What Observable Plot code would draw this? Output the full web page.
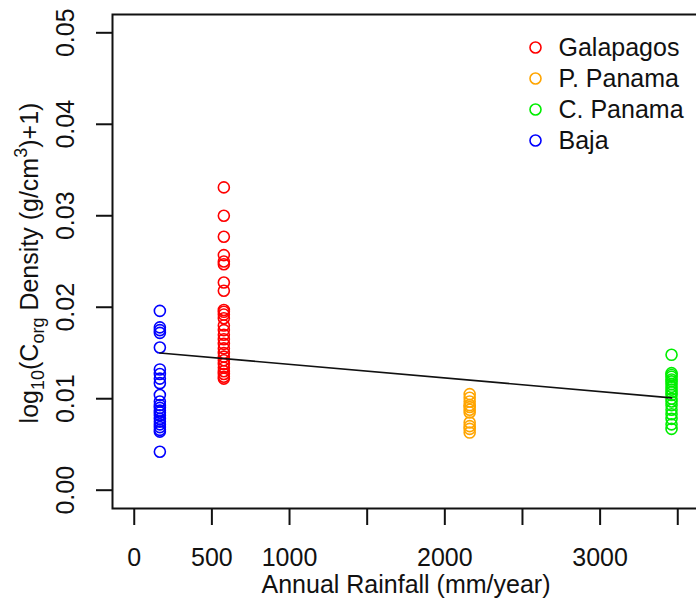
<!DOCTYPE html>
<html>
<head>
<meta charset="utf-8">
<script src="https://cdn.jsdelivr.net/npm/d3@7"></script>
<script src="https://cdn.jsdelivr.net/npm/@observablehq/plot@0.6"></script>
<style>
  html, body { margin: 0; padding: 0; background: #fff; overflow: hidden; }
</style>
</head>
<body>
<div id="chart"></div>
<script>
// Sites, legend order and colours
const sites = ["Galapagos", "P. Panama", "C. Panama", "Baja"];
const siteColors = ["#ff0000", "#ffa500", "#00ee00", "#0000ff"];
// Annual rainfall (mm/year) of each site, same order as `sites`
const siteRainfall = [577, 2160, 3460, 165];

// log10(Corg density + 1) per core, by site
const galapagosCorg = [0.0331, 0.0300, 0.0277, 0.0257, 0.0250, 0.0247, 0.0227, 0.0218,
  0.0197, 0.0195, 0.0192, 0.0188, 0.0180, 0.0175, 0.0170, 0.0165, 0.0160, 0.0155,
  0.0150, 0.0146, 0.0142, 0.0138, 0.0134, 0.0130, 0.0127, 0.0124, 0.0122];
const pPanamaCorg = [0.0105, 0.0101, 0.0097, 0.0093, 0.0091, 0.0088, 0.0085,
  0.0074, 0.0070, 0.0067, 0.0063];
const cPanamaCorg = [0.0148, 0.0128, 0.0126, 0.0124, 0.0121, 0.0119, 0.0116, 0.0113,
  0.0110, 0.0107, 0.0104, 0.0100, 0.0097, 0.0093, 0.0088, 0.0083, 0.0078, 0.0072, 0.0067];
const bajaCorg = [0.0196, 0.0178, 0.0175, 0.0172, 0.0156, 0.0132, 0.0127, 0.0122,
  0.0117, 0.0104, 0.0097, 0.0093, 0.0090, 0.0087, 0.0085, 0.0082, 0.0078, 0.0075,
  0.0072, 0.0069, 0.0066, 0.0064, 0.0042];

// Linear fit of Corg density on rainfall
const fitIntercept = 0.01525;
const fitSlope = -1.49e-6;

// Axis ticks
const xTicks = [0, 500, 1000, 1500, 2000, 2500, 3000, 3500];
const xTickLabels = [0, 500, 1000, 2000, 3000];
const yTicks = [0, 0.01, 0.02, 0.03, 0.04, 0.05];

const seriesBySite = [galapagosCorg, pPanamaCorg, cPanamaCorg, bajaCorg];
const rows = sites.flatMap((site, i) =>
  seriesBySite[i].map(v => ({site, rain: siteRainfall[i], corg: v})));

const rainExtent = d3.extent(siteRainfall);
const fitLine = rainExtent.map(r => ({rain: r, corg: fitIntercept + fitSlope * r}));

const ink = "#111";
const fontSize = 25;

const legendMarks = sites.flatMap((site, i) => [
  Plot.dot([site], {frameAnchor: "top-left", dx: 423, dy: 33 + 31 * i,
    r: 5.5, stroke: siteColors[i], strokeWidth: 1.6, fill: "none"}),
  Plot.text([site], {frameAnchor: "top-left", dx: 446, dy: 33 + 31 * i,
    text: d => d, textAnchor: "start", lineAnchor: "middle", fill: ink, fontSize})
]);

const chart = Plot.plot({
  width: 700,
  height: 606,
  marginTop: 14,
  marginBottom: 98,
  marginLeft: 112,
  marginRight: 1,
  style: {
    fontFamily: "'Liberation Sans', Arial, sans-serif",
    fontSize: fontSize + "px",
    color: ink,
    background: "#fff",
    maxWidth: "none",
    overflow: "visible"
  },
  x: {domain: [-140, 3640]},
  y: {domain: [-0.002, 0.052]},
  color: {domain: sites, range: siteColors},
  marks: [
    Plot.dot(rows, {x: "rain", y: "corg", stroke: "site", r: 5.5, strokeWidth: 1.6, fill: "none"}),
    Plot.line(fitLine, {x: "rain", y: "corg", stroke: ink, strokeWidth: 1.6}),
    Plot.axisX({ticks: xTicks, tickSize: 17, tickPadding: 23, strokeWidth: 2,
      tickFormat: d => xTickLabels.includes(d) ? String(d) : "", label: null, fontSize}),
    Plot.axisY({ticks: yTicks, tickSize: 16, strokeWidth: 2, tickFormat: () => "", label: null}),
    Plot.text(yTicks, {y: d => d, text: d => d.toFixed(2), frameAnchor: "left", dx: -39,
      rotate: -90, textAnchor: "middle", lineAnchor: "bottom", fill: ink, fontSize}),
    Plot.text(["Annual Rainfall (mm/year)"], {frameAnchor: "bottom", dy: 84,
      text: d => d, lineAnchor: "bottom", fill: ink, fontSize}),
    ...legendMarks,
    Plot.frame({stroke: ink, strokeWidth: 2})
  ]
});

// y-axis title with subscripts and superscript
const svg = d3.select(chart);
const small = fontSize * 0.72;
const yTitle = svg.append("text")
  .attr("transform", "translate(38,263) rotate(-90)")
  .attr("text-anchor", "middle")
  .attr("fill", ink)
  .attr("font-size", fontSize);
yTitle.append("tspan").text("log");
yTitle.append("tspan").attr("font-size", small).attr("dy", 6).text("10");
yTitle.append("tspan").attr("dy", -6).text("(C");
yTitle.append("tspan").attr("font-size", small).attr("dy", 6).text("org");
yTitle.append("tspan").attr("dy", -6).text(" Density (g/cm");
yTitle.append("tspan").attr("font-size", small).attr("dy", -11).text("3");
yTitle.append("tspan").attr("dy", 11).text(")+1)");

document.getElementById("chart").append(chart);
</script>
</body>
</html>
